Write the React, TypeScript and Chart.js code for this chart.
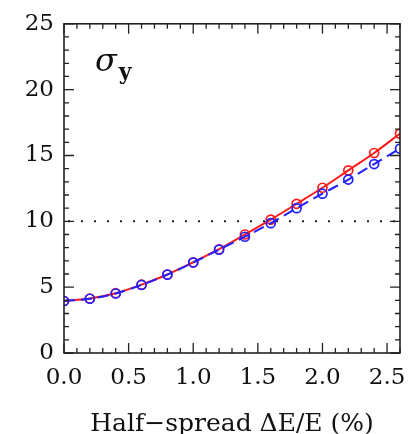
import React, { useEffect, useRef } from "react";
import { Chart, registerables } from "chart.js";

Chart.register(...registerables);

const X_VALUES = [0, 0.2, 0.4, 0.6, 0.8, 1.0, 1.2, 1.4, 1.6, 1.8, 2.0, 2.2, 2.4, 2.6];
const RED_VALUES = [3.95, 4.14, 4.54, 5.19, 5.96, 6.89, 7.88, 9.0, 10.13, 11.33, 12.55, 13.87, 15.19, 16.66];
const BLUE_VALUES = [3.95, 4.12, 4.52, 5.17, 5.95, 6.87, 7.85, 8.83, 9.86, 11.0, 12.1, 13.17, 14.35, 15.52];
const REF_LEVEL = 10;
const X_MIN = 0;
const X_MAX = 2.6;
const Y_MIN = 0;
const Y_MAX = 25;
const X_MAJOR_STEP = 0.5;
const X_MINOR_STEP = 0.1;
const Y_MAJOR_STEP = 5;
const Y_MINOR_STEP = 1;
const X_TITLE = "Half\u2212spread \u0394E/E (%)";
const PANEL_LABEL = "\u03c3";
const PANEL_SUB = "y";

const FONT = '"DejaVu Serif", serif';
const INK = "#111";

const framePlugin = {
  id: "frameTicks",
  afterDatasetsDraw(chart: any) {
    const { ctx, chartArea: a, scales } = chart;
    const xs = scales.x;
    const ys = scales.y;
    ctx.save();
    ctx.strokeStyle = "#222";
    ctx.lineWidth = 1.6;
    ctx.strokeRect(a.left, a.top, a.right - a.left, a.bottom - a.top);
    ctx.lineWidth = 1.3;
    const nx = Math.round((X_MAX - X_MIN) / X_MINOR_STEP);
    for (let i = 0; i <= nx; i++) {
      const v = X_MIN + i * X_MINOR_STEP;
      const major = Math.abs(v / X_MAJOR_STEP - Math.round(v / X_MAJOR_STEP)) < 1e-6;
      const len = major ? 10 : 5;
      const px = xs.getPixelForValue(v);
      ctx.beginPath();
      ctx.moveTo(px, a.bottom);
      ctx.lineTo(px, a.bottom - len);
      ctx.moveTo(px, a.top);
      ctx.lineTo(px, a.top + len);
      ctx.stroke();
    }
    const ny = Math.round((Y_MAX - Y_MIN) / Y_MINOR_STEP);
    for (let i = 0; i <= ny; i++) {
      const v = Y_MIN + i * Y_MINOR_STEP;
      const major = Math.abs(v / Y_MAJOR_STEP - Math.round(v / Y_MAJOR_STEP)) < 1e-6;
      const len = major ? 10 : 5;
      const py = ys.getPixelForValue(v);
      ctx.beginPath();
      ctx.moveTo(a.left, py);
      ctx.lineTo(a.left + len, py);
      ctx.moveTo(a.right, py);
      ctx.lineTo(a.right - len, py);
      ctx.stroke();
    }
    // panel label
    const lx = xs.getPixelForValue(0.24);
    const ly = ys.getPixelForValue(21.4);
    ctx.fillStyle = INK;
    ctx.textBaseline = "alphabetic";
    ctx.textAlign = "left";
    ctx.font = `italic 32px ${FONT}`;
    ctx.fillText(PANEL_LABEL, lx, ly);
    const w = ctx.measureText(PANEL_LABEL).width;
    ctx.font = `bold 22px ${FONT}`;
    ctx.fillText(PANEL_SUB, lx + w + 2, ly + 8);
    ctx.restore();
  },
};

export default function App() {
  const ref = useRef<HTMLCanvasElement>(null);
  useEffect(() => {
    if (!ref.current) return;
    const chart = new Chart(ref.current, {
      type: "line",
      data: {
        datasets: [
          {
            label: "blue",
            data: X_VALUES.map((x, i) => ({ x, y: BLUE_VALUES[i] })),
            borderColor: "#1f1fff",
            borderWidth: 2,
            borderDash: [11, 6],
            pointRadius: 4.5,
            pointBorderWidth: 1.7,
            pointBorderColor: "#1f1fff",
            pointBackgroundColor: "rgba(0,0,0,0)",
            cubicInterpolationMode: "monotone",
          },
          {
            label: "red",
            data: X_VALUES.map((x, i) => ({ x, y: RED_VALUES[i] })),
            borderColor: "#ff1a1a",
            borderWidth: 2,
            pointRadius: 4.5,
            pointBorderWidth: 1.7,
            pointBorderColor: "#ff1a1a",
            pointBackgroundColor: "rgba(0,0,0,0)",
            cubicInterpolationMode: "monotone",
          },
          {
            label: "ref",
            data: [
              { x: X_MIN, y: REF_LEVEL },
              { x: X_MAX, y: REF_LEVEL },
            ],
            borderColor: "#222",
            borderWidth: 2,
            borderDash: [2, 11],
            borderDashOffset: -4,
            pointRadius: 0,
          },
        ],
      },
      options: {
        animation: false,
        responsive: false,
        layout: { padding: { top: 19, right: 20, left: 0, bottom: 0 } },
        plugins: { legend: { display: false }, tooltip: { enabled: false } },
        scales: {
          x: {
            type: "linear",
            min: X_MIN,
            max: X_MAX,
            grid: { display: false, drawTicks: false },
            border: { display: false },
            ticks: {
              stepSize: X_MAJOR_STEP,
              includeBounds: false,
              maxRotation: 0,
              autoSkip: false,
              padding: 11,
              color: INK,
              font: { family: FONT, size: 23 },
              callback: (v: any) => Number(v).toFixed(1),
            },
            title: {
              display: true,
              text: X_TITLE,
              color: INK,
              font: { family: FONT, size: 25 },
              padding: { top: 8, bottom: -5 },
            },
            afterFit: (s: any) => {
              s.height = 81;
            },
          },
          y: {
            type: "linear",
            min: Y_MIN,
            max: Y_MAX,
            grid: { display: false, drawTicks: false },
            border: { display: false },
            ticks: {
              stepSize: Y_MAJOR_STEP,
              padding: 10,
              color: INK,
              font: { family: FONT, size: 23 },
            },
            afterFit: (s: any) => {
              s.width = 64;
            },
          },
        },
      } as any,
      plugins: [framePlugin],
    });
    return () => chart.destroy();
  }, []);
  return (
    <div style={{ position: "fixed", left: 0, top: 0, width: 420, height: 434, background: "#fff" }}>
      <canvas ref={ref} width={420} height={434} style={{ display: "block" }} />
    </div>
  );
}
